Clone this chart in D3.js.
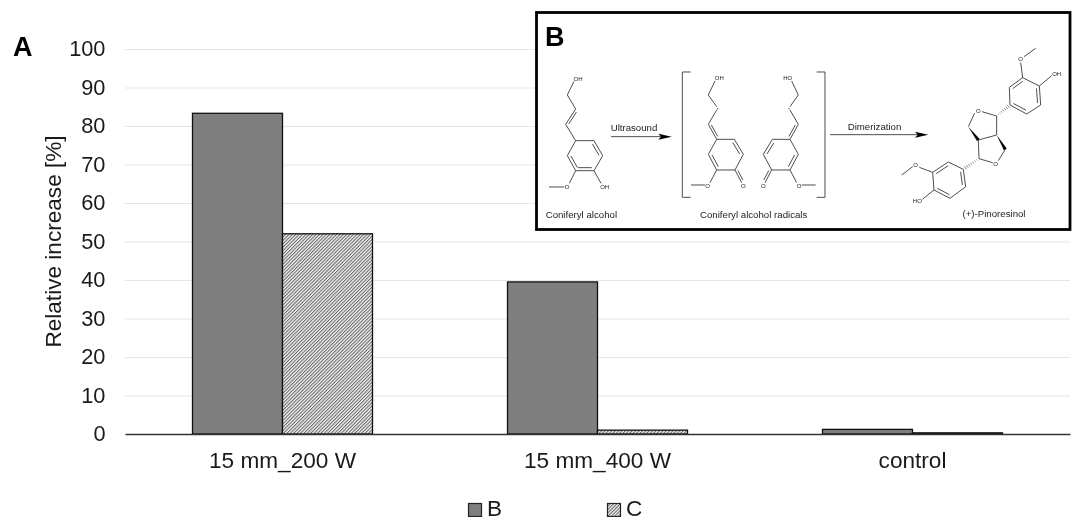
<!DOCTYPE html>
<html><head><meta charset="utf-8">
<script src="https://cdn.jsdelivr.net/npm/d3@7/dist/d3.min.js"></script>
<style>
html,body{margin:0;padding:0;background:#fff}
svg{display:block;filter:blur(0.3px)}
text{font-family:"Liberation Sans",Arial,sans-serif;fill:#1a1a1a}
</style></head><body><div id="c"></div>
<script>
// ---- chart data
const categories = ["15 mm_200 W","15 mm_400 W","control"];
const seriesNames = ["B","C"];
const seriesB = [83.3,39.5,1.2];
const seriesC = [52,1,0.3];
const yTicks = [0,10,20,30,40,50,60,70,80,90,100];

const W=1076,H=517;
const svg=d3.select("#c").append("svg").attr("width",W).attr("height",H);
const defs=svg.append("defs");
const pat=defs.append("pattern").attr("id","hatch").attr("patternUnits","userSpaceOnUse")
  .attr("width",2.4).attr("height",2.4).attr("patternTransform","rotate(-45)");
pat.append("rect").attr("width",2.4).attr("height",2.4).attr("fill","#efefef");
pat.append("rect").attr("width",2.4).attr("height",1).attr("fill","#666");

const x=d3.scaleBand().domain(categories).range([125,1070]);
const xs=d3.scaleBand().domain(seriesNames).range([x.bandwidth()*0.2143,x.bandwidth()*0.7857]);
const y=d3.scaleLinear().domain([0,100]).range([434,49]);
const FS=22.6;

// gridlines
svg.append("g").selectAll("line").data(yTicks.filter(d=>d>0)).join("line")
  .attr("x1",125).attr("x2",1070).attr("y1",d=>y(d)+.5).attr("y2",d=>y(d)+.5)
  .attr("stroke","#e6e6e6").attr("stroke-width",1);

// bars
const fills={B:"#7f7f7f",C:"url(#hatch)"};
const values={B:seriesB,C:seriesC};
seriesNames.forEach(s=>{
  svg.append("g").selectAll("rect").data(categories).join("rect")
    .attr("x",c=>x(c)+xs(s)).attr("width",xs.bandwidth())
    .attr("y",(c,i)=>y(values[s][i])).attr("height",(c,i)=>y(0)-y(values[s][i]))
    .attr("fill",fills[s]).attr("stroke","#111").attr("stroke-width",1.3);
});

// axes
const yAxis=svg.append("g").attr("transform","translate(105.5,0)")
  .call(d3.axisLeft(y).tickValues(yTicks).tickSize(0).tickPadding(0));
yAxis.select(".domain").remove();
yAxis.selectAll("text").attr("font-size",21.8).attr("font-family",'"Liberation Sans",Arial,sans-serif').attr("fill","#1a1a1a");
const xAxis=svg.append("g").attr("transform","translate(0,434)")
  .call(d3.axisBottom(x).tickSize(0).tickPadding(18));
xAxis.select(".domain").attr("stroke","#333").attr("stroke-width",1.6);
xAxis.selectAll("text").attr("font-size",FS).attr("font-family",'"Liberation Sans",Arial,sans-serif').attr("fill","#1a1a1a");

svg.append("text").attr("transform","translate(61,241.5) rotate(-90)").attr("text-anchor","middle")
  .attr("font-size",FS).text("Relative increase [%]");
svg.append("text").attr("x",13).attr("y",56).attr("font-size",27).attr("font-weight","bold").style("fill","#000").text("A");

// legend
const legX={B:468,C:607};
seriesNames.forEach(s=>{
  svg.append("rect").attr("x",legX[s]+.5).attr("y",503.5).attr("width",13).attr("height",13)
    .attr("fill",fills[s]).attr("stroke","#222").attr("stroke-width",1.2);
  svg.append("text").attr("x",legX[s]+19).attr("y",516).attr("font-size",FS).text(s);
});

// ---- inset B: reaction scheme
svg.append("rect").attr("x",536.5).attr("y",12.5).attr("width",533.5).attr("height",217)
  .attr("fill","#fff").attr("stroke","#000").attr("stroke-width",2.8);
svg.append("text").attr("x",545).attr("y",46).attr("font-size",27).attr("font-weight","bold").style("fill","#000").text("B");

const g1=svg.append("g").attr("transform","translate(535,10) scale(0.33333)");
const g2=svg.append("g").attr("transform","translate(800,10) scale(0.33333)");
const SW=2.7, COL="#3a3a3a";
const path=(g,pts)=>g.append("path").attr("d",d3.line()(pts)).attr("fill","none")
  .attr("stroke",COL).attr("stroke-width",SW);
const bonds=(g,list)=>list.forEach(p=>path(g,p));
// second stroke of a double bond, shifted towards (cx,cy)
const dbl=(g,a,b,c,off=9)=>{
  const dx=b[0]-a[0],dy=b[1]-a[1],L=Math.hypot(dx,dy),nx=-dy/L,ny=dx/L;
  const mx=(a[0]+b[0])/2,my=(a[1]+b[1])/2;
  const s=((c[0]-mx)*nx+(c[1]-my)*ny)>0?1:-1,t=.12;
  path(g,[[a[0]+dx*t+nx*off*s,a[1]+dy*t+ny*off*s],[b[0]-dx*t+nx*off*s,b[1]-dy*t+ny*off*s]]);
};
const label=(g,tx,px,py,fs=24,anchor="middle")=>g.append("text").attr("x",px).attr("y",py)
  .attr("font-size",fs).attr("text-anchor",anchor).style("fill","#222").text(tx);
const atom=(g,tx,px,py)=>label(g,tx,px,py,18);
const arrow=(g,x0,x1,yy)=>{
  path(g,[[x0,yy],[x1-30,yy]]);
  g.append("path").attr("d",d3.line()([[x1-40,yy-9],[x1,yy],[x1-40,yy+9],[x1-32,yy]])).attr("fill","#000");
};
const wedge=(g,a,b)=>{
  const dx=b[0]-a[0],dy=b[1]-a[1],L=Math.hypot(dx,dy),nx=-dy/L*5,ny=dx/L*5;
  g.append("path").attr("d",d3.line()([a,[b[0]+nx,b[1]+ny],[b[0]-nx,b[1]-ny]])).attr("fill","#000");
};
const hashed=(g,a,b)=>{
  for(let i=1;i<=7;i++){
    const t=i/8,w=1+t*5,dx=b[0]-a[0],dy=b[1]-a[1],L=Math.hypot(dx,dy),nx=-dy/L*w,ny=dx/L*w;
    const px=a[0]+dx*t,py=a[1]+dy*t;
    g.append("line").attr("x1",px+nx).attr("y1",py+ny).attr("x2",px-nx).attr("y2",py-ny)
      .attr("stroke",COL).attr("stroke-width",1.8);
  }
};

// Coniferyl alcohol
const r1=[[122,392],[177,392],[203,437],[177,482],[122,482],[97,437],[122,392]];
const c1=[150,437];
bonds(g1,[r1,[[117,214],[97,255],[122,297],[92,343],[122,392]],[[177,482],[198,520]],[[122,482],[103,520]],[[88,531],[42,531]]]);
dbl(g1,r1[1],r1[2],c1);dbl(g1,r1[3],r1[4],c1);dbl(g1,r1[5],r1[4],c1);
dbl(g1,[122,297],[92,343],[120,345],7);
atom(g1,"OH",129,214);atom(g1,"OH",209,537);atom(g1,"O",96,537);
label(g1,"Coniferyl alcohol",32,625,29,"start");

// Ultrasound arrow
arrow(g1,228,410,380);
label(g1,"Ultrasound",227,363,29,"start");

// bracket + radicals
path(g1,[[467,186],[442,186],[442,562],[467,562]]);
path(g2,[[50,186],[75,186],[75,562],[50,562]]);
const mirror=p=>[1310-p[0],p[1]];
const radRing=[[545,388],[598,388],[625,433],[600,480],[545,480],[520,433],[545,388]];
const radBonds=[radRing,[[540,213],[520,255],[545,290]],[[545,300],[520,343],[545,388]],[[600,480],[620,518]],[[545,480],[525,518]],[[510,525],[468,525]]];
bonds(g1,radBonds);
bonds(g1,radBonds.map(b=>b.map(mirror)));
[p=>p,mirror].forEach(m=>{
  const c=m([572,433]);
  dbl(g1,m(radRing[1]),m(radRing[2]),c);
  dbl(g1,m(radRing[5]),m(radRing[4]),c);
  dbl(g1,m([520,343]),m([545,388]),m([550,350]),7);
  dbl(g1,m([600,480]),m([620,518]),m([630,500]),7);
  const d=m([548,296]);
  g1.append("circle").attr("cx",d[0]).attr("cy",d[1]).attr("r",1.8).attr("fill","#333");
});
atom(g1,"OH",553,210);atom(g1,"HO",758,210);
atom(g1,"O",625,534);atom(g1,"O",518,534);atom(g1,"O",685,534);atom(g1,"O",792,534);
label(g1,"Coniferyl alcohol radicals",495,625,29,"start");

// Dimerization arrow
arrow(g2,90,385,374);
label(g2,"Dimerization",143,360,29,"start");

// Pinoresinol
const up=[[628,232],[668,203],[718,228],[722,285],[680,312],[630,285],[628,232]];
const uc=[675,258];
const lo=[[445,456],[490,478],[497,530],[450,565],[402,540],[398,487],[445,456]];
const lc=[448,510];
bonds(g2,[up,lo,
  [[668,203],[662,158]],[[672,140],[707,115]],[[718,228],[755,197]],
  [[398,487],[358,472]],[[338,470],[305,495]],[[402,540],[367,568]],
  [[524,309],[505,350]],[[535,390],[590,375]],[[590,375],[590,318]],[[590,318],[546,305]],
  [[616,418],[595,452]],[[578,458],[537,446]],[[537,446],[535,390]]]);
dbl(g2,up[0],up[1],uc);dbl(g2,up[2],up[3],uc);dbl(g2,up[4],up[5],uc);
dbl(g2,lo[0],lo[5],lc);dbl(g2,lo[1],lo[2],lc);dbl(g2,lo[3],lo[4],lc);
wedge(g2,[505,350],[535,390]);wedge(g2,[590,375],[616,418]);
hashed(g2,[590,318],[630,285]);hashed(g2,[537,446],[490,477]);
atom(g2,"O",535,310);atom(g2,"O",587,469);atom(g2,"O",662,153);atom(g2,"O",347,471);
atom(g2,"OH",770,198);atom(g2,"HO",352,580);
label(g2,"(+)-Pinoresinol",582,622,29);
</script></body></html>
